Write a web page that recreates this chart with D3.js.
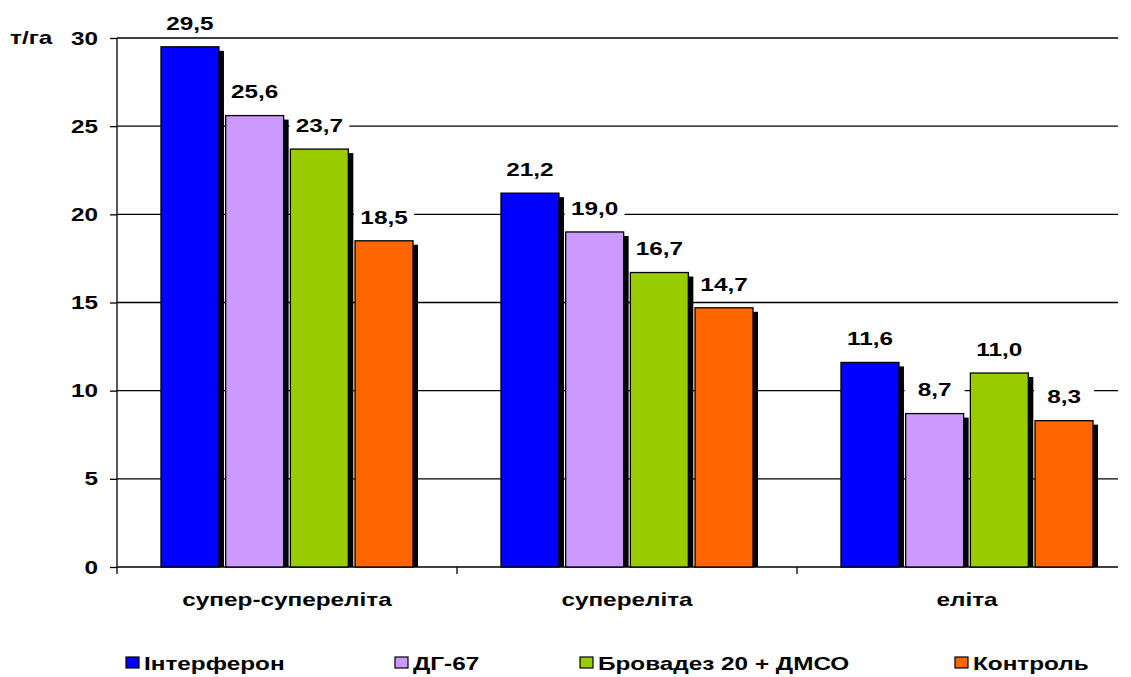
<!DOCTYPE html>
<html>
<head>
<meta charset="utf-8">
<script src="https://cdn.jsdelivr.net/npm/d3@7/dist/d3.min.js"></script>
<style>
  html, body { margin: 0; padding: 0; background: #fff; }
  svg { display: block; font-family: "Liberation Sans", Arial, sans-serif; font-weight: bold; }
  svg text { font-size: 19px; font-weight: bold; font-family: "Liberation Sans", Arial, sans-serif; fill: #000; }
</style>
</head>
<body>
<svg id="chart" width="1131" height="677"></svg>
<script>
// Seed categories (x axis)
const categories = ["супер-супереліта", "супереліта", "еліта"];
// Treatments (legend)
const seriesNames = ["Інтерферон", "ДГ-67", "Бровадез 20 + ДМСО", "Контроль"];
const seriesColors = ["#0000ff", "#cc99ff", "#99cc00", "#ff6600"];
// Yield, t/ha — one array per treatment, in category order
const interferon = [29.5, 21.2, 11.6];
const dg67 = [25.6, 19.0, 8.7];
const brovadez = [23.7, 16.7, 11.0];
const control = [18.5, 14.7, 8.3];
const seriesValues = [interferon, dg67, brovadez, control];
// Y-axis ticks
const yTicks = [0, 5, 10, 15, 20, 25, 30];
const yUnit = "т/га";

// Text is drawn slightly widened
const SX = 1.28;
function stretch(sel) {
  sel.each(function () {
    const t = d3.select(this);
    const tx = +t.attr("x") || 0, ty = +t.attr("y") || 0;
    t.attr("x", 0).attr("y", 0).attr("transform", `translate(${tx},${ty}) scale(${SX},1)`);
  });
}

const svg = d3.select("#chart");

const plotLeft = 117, plotRight = 1118, bandRight = 1137;
const plotTop = 38, plotBottom = 567;

const x = d3.scaleBand().domain(categories).range([plotLeft, bandRight]).paddingInner(0).paddingOuter(0);
const xs = d3.scaleBand().domain(seriesNames).range([0, x.bandwidth()]).paddingOuter(0.68).paddingInner(0.104);
const y = d3.scaleLinear().domain([0, 30]).range([plotBottom, plotTop]);

// Gridlines
svg.append("g")
  .selectAll("line")
  .data(yTicks.filter(d => d > 0))
  .join("line")
  .attr("x1", plotLeft).attr("x2", plotRight)
  .attr("y1", d => y(d)).attr("y2", d => y(d))
  .attr("stroke", "#000").attr("stroke-width", 1.3);

// Y axis
const yAxis = svg.append("g")
  .attr("transform", `translate(${plotLeft},0)`)
  .call(d3.axisLeft(y).tickValues(yTicks).tickSize(7).tickPadding(12).tickFormat(d3.format("d")));
yAxis.attr("font-size", null).attr("font-family", null);
yAxis.select(".domain").attr("stroke", "#000").attr("stroke-width", 1.3).attr("d", `M0,${plotTop}V${plotBottom}`);
yAxis.selectAll(".tick line").attr("stroke", "#000").attr("stroke-width", 1.3);
yAxis.selectAll(".tick text").attr("fill", "#000").call(stretch);

// X axis
const xAxis = svg.append("g")
  .attr("transform", `translate(0,${plotBottom})`)
  .call(d3.axisBottom(x).tickSize(0).tickPadding(26));
xAxis.attr("font-size", null).attr("font-family", null);
xAxis.select(".domain").attr("stroke", "#000").attr("stroke-width", 1.3).attr("d", `M${plotLeft},0H${plotRight}`);
xAxis.selectAll(".tick text").attr("fill", "#000").call(stretch);
// Category separators
svg.append("g")
  .selectAll("line")
  .data(categories)
  .join("line")
  .attr("x1", d => x(d)).attr("x2", d => x(d))
  .attr("y1", plotBottom).attr("y2", plotBottom + 7)
  .attr("stroke", "#000").attr("stroke-width", 1.3);

// Flattened bar records
const bars = [];
categories.forEach((c, ci) => {
  seriesNames.forEach((s, si) => {
    bars.push({ cat: c, series: s, color: seriesColors[si], value: seriesValues[si][ci] });
  });
});

const barG = svg.append("g");
// Drop shadows
barG.selectAll("rect.shadow")
  .data(bars)
  .join("rect")
  .attr("class", "shadow")
  .attr("x", d => x(d.cat) + xs(d.series) + 5)
  .attr("y", d => y(d.value) + 4)
  .attr("width", xs.bandwidth())
  .attr("height", d => y(0) - y(d.value) - 4)
  .attr("fill", "#000");
// Bars
barG.selectAll("rect.bar")
  .data(bars)
  .join("rect")
  .attr("class", "bar")
  .attr("x", d => x(d.cat) + xs(d.series))
  .attr("y", d => y(d.value))
  .attr("width", xs.bandwidth())
  .attr("height", d => y(0) - y(d.value))
  .attr("fill", d => d.color)
  .attr("stroke", "#000").attr("stroke-width", 1.3);

// Value labels with white backing
const fmt = v => v.toFixed(1).replace(".", ",");
const lab = svg.append("g").selectAll("g")
  .data(bars)
  .join("g")
  .attr("transform", d => `translate(${x(d.cat) + xs(d.series) + xs.bandwidth() / 2},${y(d.value) - 24})`);
lab.append("rect")
  .attr("x", -30).attr("y", -12).attr("width", 60).attr("height", 24)
  .attr("fill", "#fff");
lab.append("text")
  .attr("text-anchor", "middle").attr("dy", "0.36em")
  .text(d => fmt(d.value))
  .call(stretch);

// Unit label
svg.append("text")
  .attr("x", 10).attr("y", 44)
  .text(yUnit)
  .call(stretch);

// Legend
const legendX = [126, 395, 580, 955];
const legend = svg.append("g")
  .selectAll("g")
  .data(seriesNames)
  .join("g")
  .attr("transform", (d, i) => `translate(${legendX[i]},663)`);
legend.append("rect")
  .attr("x", 0).attr("y", -6).attr("width", 13).attr("height", 11)
  .attr("fill", (d, i) => seriesColors[i])
  .attr("stroke", "#000").attr("stroke-width", 1.2);
legend.append("text")
  .attr("x", 18).attr("dy", "0.36em")
  .text(d => d)
  .call(stretch);
</script>
</body>
</html>
